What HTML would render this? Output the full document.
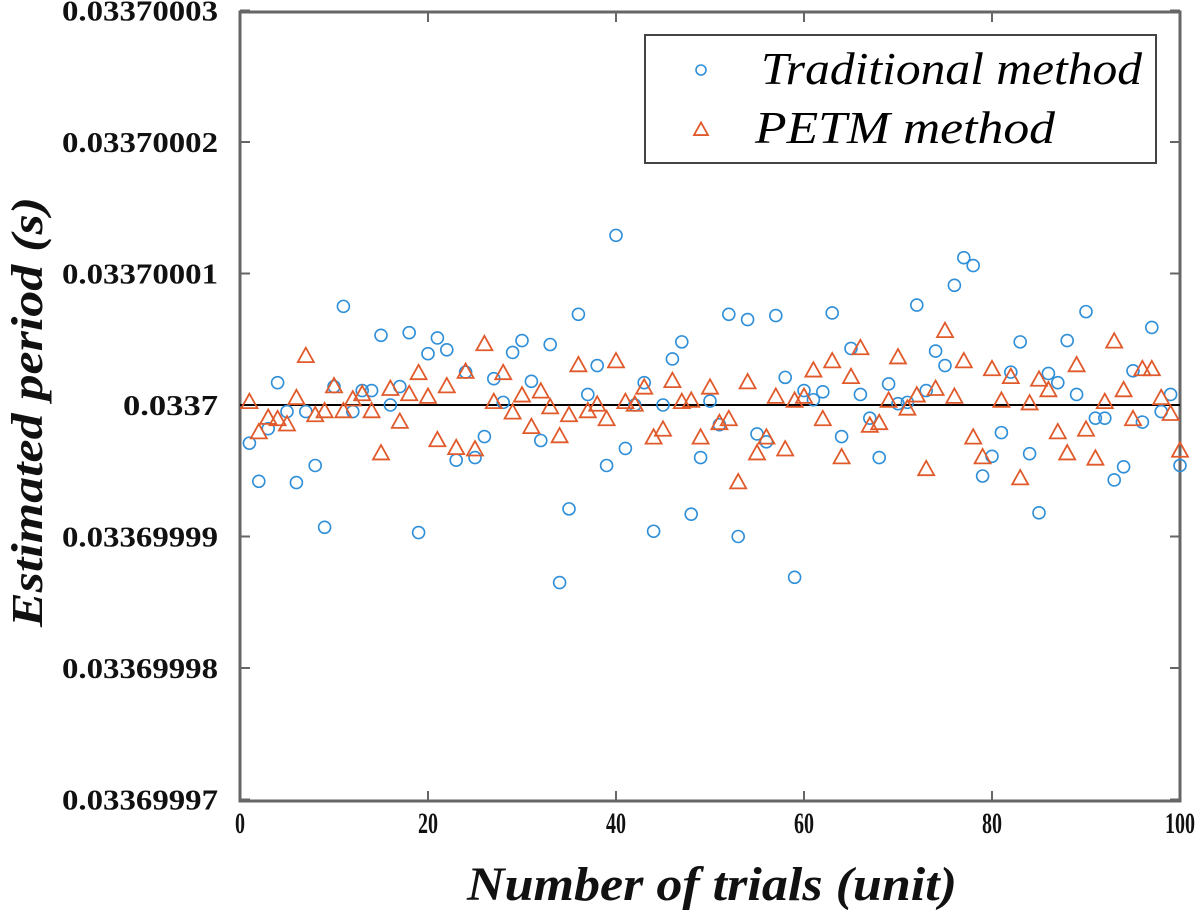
<!DOCTYPE html>
<html><head><meta charset="utf-8"><style>
html,body{margin:0;padding:0;background:#fff;}
svg{display:block;}
</style></head><body>
<svg id="chart" width="1200" height="918" xmlns="http://www.w3.org/2000/svg"></svg>
<script>
// deviations from 0.0337 s, in units of 1e-9 s
const trials = Array.from({length:100},(_,i)=>i+1);
const traditional = [-2.9,-5.8,-1.8,1.7,-0.5,-5.9,-0.5,-4.6,-9.3,1.4,7.5,-0.5,1.1,1.1,5.3,0,1.4,5.5,-9.7,3.9,5.1,4.2,-4.2,2.5,-4.0,-2.4,2.0,0.2,4.0,4.9,1.8,-2.7,4.6,-13.5,-7.9,6.9,0.8,3.0,-4.6,12.9,-3.3,0,1.7,-9.6,0,3.5,4.8,-8.3,-4.0,0.3,-1.5,6.9,-10.0,6.5,-2.2,-2.8,6.8,2.1,-13.1,1.1,0.4,1.0,7.0,-2.4,4.3,0.8,-1.0,-4.0,1.6,0.1,0.2,7.6,1.1,4.1,3.0,9.1,11.2,10.6,-5.4,-3.9,-2.1,2.5,4.8,-3.7,-8.2,2.4,1.7,4.9,0.8,7.1,-1.0,-1.0,-5.7,-4.7,2.6,-1.3,5.9,-0.5,0.8,-4.6];
const petm = [0.2,-2.1,-1.0,-1.1,-1.5,0.5,3.7,-0.8,-0.5,1.4,-0.5,0.4,0.8,-0.5,-3.7,1.2,-1.3,0.8,2.4,0.6,-2.7,1.4,-3.3,2.5,-3.4,4.6,0.2,2.4,-0.6,0.7,-1.7,1.0,-0.2,-2.4,-0.8,3.0,-0.5,0,-1.1,3.3,0.2,0,1.3,-2.5,-1.9,1.8,0.2,0.3,-2.5,1.3,-1.4,-1.1,-5.9,1.7,-3.7,-2.5,0.6,-3.4,0.3,0.6,2.6,-1.1,3.3,-4.0,2.1,4.3,-1.6,-1.4,0.3,3.6,-0.3,0.7,-4.9,1.2,5.6,0.6,3.3,-2.5,-4.0,2.7,0.3,2.1,-5.6,0.1,1.9,1.1,-2.1,-3.7,3.0,-1.9,-4.1,0.2,4.8,1.1,-1.1,2.7,2.7,0.5,-0.7,-3.5];
const xTicks = [0,20,40,60,80,100];
const yTicks = [-30,-20,-10,0,10,20,30];
const yTickLabels = ["0.03369997","0.03369998","0.03369999","0.0337","0.03370001","0.03370002","0.03370003"];

const NS="http://www.w3.org/2000/svg";
const svg=document.getElementById('chart');
const L=240,R=1180,T=12,B=801;
const xs=v=>L+(v/100)*(R-L);
const ys=v=>405-v*13.15;
function mk(tag,attrs,parent){const e=document.createElementNS(NS,tag);for(const k in attrs)e.setAttribute(k,attrs[k]);(parent||svg).appendChild(e);return e;}

const frame=mk('rect',{x:L,y:T,width:R-L,height:B-T,fill:'none',stroke:'#666','stroke-width':3});



xTicks.forEach(t=>{
  const x=xs(t);
  mk('line',{x1:x,y1:B,x2:x,y2:B-10,stroke:'#666','stroke-width':2});
  mk('line',{x1:x,y1:T,x2:x,y2:T+10,stroke:'#666','stroke-width':2});
  const s=String(t);
  const tx=mk('text',{x:x,y:B+32,'text-anchor':'middle','font-family':'Liberation Serif, serif','font-weight':'bold','font-size':30,fill:'#111',textLength:s.length*10,lengthAdjust:'spacingAndGlyphs'});
  tx.textContent=s;
  
  
});
yTicks.forEach((t,i)=>{
  const y=ys(t);
  mk('line',{x1:L,y1:y,x2:L+10,y2:y,stroke:'#666','stroke-width':2});
  mk('line',{x1:R,y1:y,x2:R-10,y2:y,stroke:'#666','stroke-width':2});
  const lab=yTickLabels[i];
  const tx=mk('text',{x:218,y:y+10,'text-anchor':'end','font-family':'Liberation Serif, serif','font-weight':'bold','font-size':28,fill:'#111',textLength:lab.length>6?156:95,lengthAdjust:'spacingAndGlyphs'});
  tx.textContent=lab;
  
  
});

const ref=mk('line',{x1:L,y1:ys(0),x2:R,y2:ys(0),stroke:'#000','stroke-width':2});



const blue='#2f8fd8',orange='#e05a2b';
function tri(x,y,s,parent){const h=s*0.9;return mk('polygon',{points:`${x},${y-h*0.6} ${x-s/2},${y+h*0.4} ${x+s/2},${y+h*0.4}`,fill:'none',stroke:orange,'stroke-width':1.8},parent);}
trials.forEach((t,i)=>{
  const c=mk('circle',{cx:xs(t),cy:ys(traditional[i]),r:6,fill:'none',stroke:blue,'stroke-width':1.6});
  
  
});
trials.forEach((t,i)=>{
  const p=tri(xs(t),ys(petm[i]),16);
  
  
});

// legend
const lg=mk('g',{});


mk('rect',{x:645,y:35,width:511,height:128,fill:'#fff',stroke:'#444','stroke-width':2},lg);
mk('circle',{cx:701,cy:70,r:5,fill:'none',stroke:blue,'stroke-width':1.6},lg);
tri(701,130,14,lg);
const t1=mk('text',{x:761,y:84,'font-family':'Liberation Serif, serif','font-style':'italic','font-size':46,fill:'#000',textLength:381,lengthAdjust:'spacingAndGlyphs'},lg);
t1.textContent='Traditional method';


const t2=mk('text',{x:755,y:143,'font-family':'Liberation Serif, serif','font-style':'italic','font-size':46,fill:'#000',textLength:300,lengthAdjust:'spacingAndGlyphs'},lg);
t2.textContent='PETM method';



const xt=mk('text',{x:712,y:900,'text-anchor':'middle','font-family':'Liberation Serif, serif','font-style':'italic','font-weight':'bold','font-size':48,fill:'#111',textLength:490,lengthAdjust:'spacingAndGlyphs'});
xt.textContent='Number of trials (unit)';


const yt=mk('text',{x:0,y:0,'text-anchor':'middle','font-family':'Liberation Serif, serif','font-style':'italic','font-weight':'bold','font-size':44,fill:'#111',transform:'translate(42,412) rotate(-90)',textLength:430,lengthAdjust:'spacingAndGlyphs'});
yt.textContent='Estimated period (s)';


</script>
</body></html>
